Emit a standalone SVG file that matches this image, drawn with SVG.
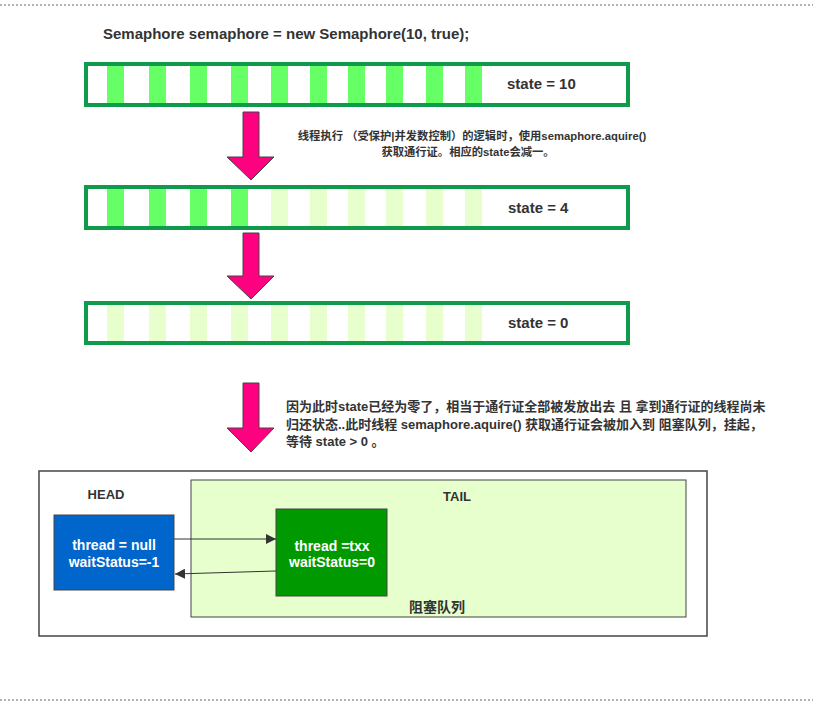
<svg xmlns="http://www.w3.org/2000/svg" width="813" height="704" viewBox="0 0 813 704">
<defs>
<style>
.t{font-family:"Liberation Sans","Noto Sans CJK SC",sans-serif;font-weight:bold;fill:#333}
.w{font-family:"Liberation Sans","Noto Sans CJK SC",sans-serif;font-weight:bold;fill:#fff;font-size:14px;text-anchor:middle}
.bar{fill:#fff;stroke:#109a4c;stroke-width:4}
.on{fill:#66ff66}
.off{fill:#e6ffcc}
.arr{fill:#ff0080;stroke:#444;stroke-width:1}
.sep{stroke:#999;stroke-width:1.5;stroke-dasharray:2 2;fill:none}
.ln{stroke:#333;stroke-width:1;fill:none}
</style>
<marker id="ah" viewBox="0 0 10 10" refX="10" refY="5" markerWidth="10" markerHeight="10" markerUnits="userSpaceOnUse" orient="auto"><path d="M0,0 L10,5 L0,10 z" fill="#333"/></marker>
<g id="slots10">
<rect x="107" width="17" height="37"/><rect x="149" width="17" height="37"/><rect x="190" width="17" height="37"/><rect x="231" width="17" height="37"/><rect x="271" width="17" height="37"/><rect x="310" width="17" height="37"/><rect x="348" width="17" height="37"/><rect x="386" width="17" height="37"/><rect x="426" width="17" height="37"/><rect x="465" width="17" height="37"/>
</g>
</defs>
<rect width="813" height="704" fill="#fff"/>
<line class="sep" x1="0" y1="5" x2="813" y2="5"/>
<line class="sep" x1="0" y1="700" x2="813" y2="700"/>
<text class="t" x="103" y="39" font-size="15">Semaphore semaphore = new Semaphore(10, true);</text>

<g id="bar1">
<rect class="bar" x="86" y="64" width="542" height="41"/>
<use href="#slots10" y="66" class="on"/>
<text class="t" x="507" y="89" font-size="15">state = 10</text>
</g>
<g id="bar2">
<rect class="bar" x="86" y="187" width="542" height="41"/>
<g transform="translate(0,189)">
<rect class="on" x="107" width="17" height="37"/><rect class="on" x="149" width="17" height="37"/><rect class="on" x="190" width="17" height="37"/><rect class="on" x="231" width="17" height="37"/>
<rect class="off" x="271" width="17" height="37"/><rect class="off" x="310" width="17" height="37"/><rect class="off" x="348" width="17" height="37"/><rect class="off" x="386" width="17" height="37"/><rect class="off" x="426" width="17" height="37"/><rect class="off" x="465" width="17" height="37"/>
</g>
<text class="t" x="508" y="213" font-size="15">state = 4</text>
</g>
<g id="bar3">
<rect class="bar" x="86" y="303" width="542" height="40"/>
<g transform="translate(0,305)">
<rect class="off" x="107" width="17" height="36"/><rect class="off" x="149" width="17" height="36"/><rect class="off" x="190" width="17" height="36"/><rect class="off" x="231" width="17" height="36"/><rect class="off" x="271" width="17" height="36"/><rect class="off" x="310" width="17" height="36"/><rect class="off" x="348" width="17" height="36"/><rect class="off" x="386" width="17" height="36"/><rect class="off" x="426" width="17" height="36"/><rect class="off" x="465" width="17" height="36"/>
</g>
<text class="t" x="508" y="328" font-size="15">state = 0</text>
</g>

<g id="arrows">
<polygon class="arr" points="243,112 259,112 259,157 274,157 251,180 227,157 243,157"/>
<polygon class="arr" points="243,233 259,233 259,276 274,276 251,299 227,276 243,276"/>
<polygon class="arr" points="243,383 259,383 259,428 274,428 251,452 227,428 243,428"/>
</g>

<g id="note1" class="t" font-size="11.3" text-anchor="middle">
<text x="472" y="140">线程执行 （受保护|并发数控制）的逻辑时，使用semaphore.aquire()</text>
<text x="468" y="156">获取通行证。相应的state会减一。</text>
</g>
<g id="note2" class="t" font-size="13">
<text x="286" y="411">因为此时state已经为零了，相当于通行证全部被发放出去 且 拿到通行证的线程尚未</text>
<text x="286" y="429">归还状态..此时线程 semaphore.aquire() 获取通行证会被加入到 阻塞队列，挂起，</text>
<text x="286" y="446">等待 state &gt; 0 。</text>
</g>

<g id="outer">
<rect x="39" y="471" width="668" height="165" fill="#fff" stroke="#444" stroke-width="1.5"/>
</g>
<g id="queue">
<rect x="191" y="480" width="495" height="137" fill="#e6ffcc" stroke="#444" stroke-width="1"/>
<text class="t" x="457" y="501" font-size="13" text-anchor="middle">TAIL</text>
<text class="t" x="437" y="612" font-size="14" text-anchor="middle">阻塞队列</text>
</g>
<g id="head">
<text class="t" x="106" y="499" font-size="13" text-anchor="middle">HEAD</text>
<rect x="54" y="515" width="120" height="75" fill="#0066cc" stroke="#444" stroke-width="1"/>
<text class="w" x="114" y="550">thread = null</text>
<text class="w" x="114" y="567">waitStatus=-1</text>
</g>
<g id="tail">
<rect x="276" y="509" width="111" height="87" fill="#009900" stroke="#444" stroke-width="1"/>
<text class="w" x="332" y="551">thread =txx</text>
<text class="w" x="332" y="567">waitStatus=0</text>
</g>
<g id="connectors">
<line class="ln" x1="174" y1="539" x2="276" y2="539" marker-end="url(#ah)"/>
<line class="ln" x1="276" y1="571" x2="175" y2="574" marker-end="url(#ah)"/>
</g>
</svg>
